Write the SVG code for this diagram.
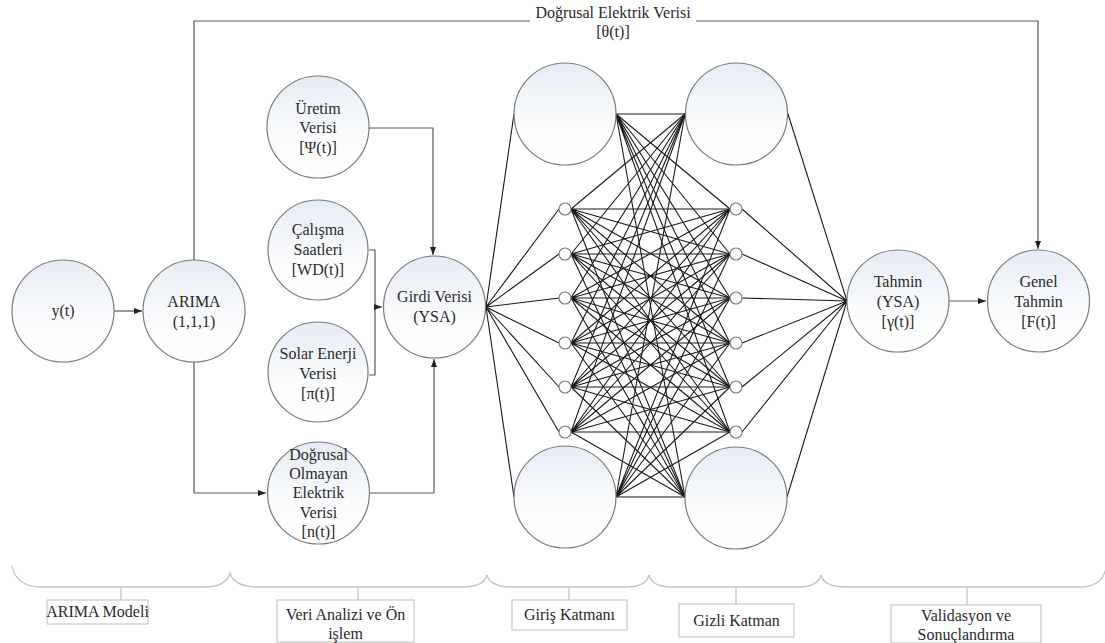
<svg xmlns="http://www.w3.org/2000/svg" width="1105" height="643" viewBox="0 0 1105 643" font-family="Liberation Serif, DejaVu Serif, serif">
<defs>
<linearGradient id="cf" x1="0" y1="0" x2="0" y2="1">
<stop offset="0" stop-color="#e6ecf4"/>
<stop offset="0.6" stop-color="#fbfcfd"/>
<stop offset="1" stop-color="#ffffff"/>
</linearGradient>
<marker id="ar" markerUnits="userSpaceOnUse" markerWidth="9" markerHeight="7" refX="8" refY="3.5" orient="auto">
<path d="M0,0.5 L8,3.5 L0,6.5 z" fill="#222"/>
</marker>
</defs>
<style>
.n{fill:url(#cf);stroke:#7a7a7a;stroke-width:1.2}
.s{fill:#fff;stroke:#7a7a7a;stroke-width:1.1}
.t{font-size:16px;fill:#2a2a2a;text-anchor:middle}
.bt{font-size:16px;fill:#2a2a2a;text-anchor:middle}
.c{fill:none;stroke:#5a5a5a;stroke-width:1.2}
.w{fill:none;stroke:#1a1a1a;stroke-width:1.1}
.br{fill:none;stroke:#c4c4c4;stroke-width:1.3}
.bx{fill:#fff;stroke:#bdbdbd;stroke-width:1}
</style>
<rect width="1105" height="643" fill="#fff"/>

<g id="connectors">
<path class="c" d="M114,311 L142,311" marker-end="url(#ar)"/>
<path class="c" d="M194,260 L194,21 L1038,21 L1038,249" marker-end="url(#ar)"/>
<path class="c" d="M194,362 L194,493 L266,493" marker-end="url(#ar)"/>
<path class="c" d="M369,128 L433,128 L433,255" marker-end="url(#ar)"/>
<path class="c" d="M369,250 L375,250 L375,375 L369,375"/>
<path class="c" d="M375,307 L382,307" marker-end="url(#ar)"/>
<path class="c" d="M370,493 L434,493 L434,359" marker-end="url(#ar)"/>
<path class="c" d="M949,301 L986,301" marker-end="url(#ar)"/>
<rect x="530" y="3" width="166" height="38" fill="#fff"/>
<text class="t" x="613" y="18" font-family="Liberation Serif, serif">Doğrusal Elektrik Verisi</text>
<text class="t" x="613" y="37" font-family="Liberation Serif, serif">[θ(t)]</text>
<g id="network-edges">
<path class="w" d="M486,307L514,114M486,307L559,209M486,307L559,254M486,307L559,298M486,307L559,343M486,307L559,387M486,307L559,432M486,307L514,497"/>
<path class="w" d="M616,114L685,114M616,114L730,209M616,114L730,254M616,114L730,298M616,114L730,343M616,114L730,387M616,114L730,432M616,114L685,497"/>
<path class="w" d="M571,209L685,114M571,209L730,209M571,209L730,254M571,209L730,298M571,209L730,343M571,209L730,387M571,209L730,432M571,209L685,497"/>
<path class="w" d="M571,254L685,114M571,254L730,209M571,254L730,254M571,254L730,298M571,254L730,343M571,254L730,387M571,254L730,432M571,254L685,497"/>
<path class="w" d="M571,298L685,114M571,298L730,209M571,298L730,254M571,298L730,298M571,298L730,343M571,298L730,387M571,298L730,432M571,298L685,497"/>
<path class="w" d="M571,343L685,114M571,343L730,209M571,343L730,254M571,343L730,298M571,343L730,343M571,343L730,387M571,343L730,432M571,343L685,497"/>
<path class="w" d="M571,387L685,114M571,387L730,209M571,387L730,254M571,387L730,298M571,387L730,343M571,387L730,387M571,387L730,432M571,387L685,497"/>
<path class="w" d="M571,432L685,114M571,432L730,209M571,432L730,254M571,432L730,298M571,432L730,343M571,432L730,387M571,432L730,432M571,432L685,497"/>
<path class="w" d="M616,497L685,114M616,497L730,209M616,497L730,254M616,497L730,298M616,497L730,343M616,497L730,387M616,497L730,432M616,497L685,497"/>
<path class="w" d="M788,114L847,301M742,209L847,301M742,254L847,301M742,298L847,301M742,343L847,301M742,387L847,301M742,432L847,301M787,497L847,301"/>
</g>
</g>

<g id="node-yt"><circle class="n" cx="63" cy="311" r="51"/><text class="t" x="63" y="316">y(t)</text></g>
<g id="node-arima"><circle class="n" cx="194" cy="311" r="51"/><text class="t" x="194" y="307">ARIMA</text><text class="t" x="194" y="327">(1,1,1)</text></g>
<g id="node-uretim"><circle class="n" cx="318" cy="127" r="51"/><text class="t" x="318" y="114">Üretim</text><text class="t" x="318" y="133">Verisi</text><text class="t" x="318" y="153">[Ψ(t)]</text></g>
<g id="node-calisma"><circle class="n" cx="318" cy="250" r="50"/><text class="t" x="318" y="235">Çalışma</text><text class="t" x="318" y="255">Saatleri</text><text class="t" x="318" y="275">[WD(t)]</text></g>
<g id="node-solar"><circle class="n" cx="318" cy="372" r="50"/><text class="t" x="318" y="359">Solar Enerji</text><text class="t" x="318" y="379">Verisi</text><text class="t" x="318" y="399">[π(t)]</text></g>
<g id="node-dogrusal-olmayan"><circle class="n" cx="318.5" cy="493" r="51"/><text class="t" x="318.5" y="460">Doğrusal</text><text class="t" x="318.5" y="479">Olmayan</text><text class="t" x="318.5" y="498">Elektrik</text><text class="t" x="318.5" y="518">Verisi</text><text class="t" x="318.5" y="537">[n(t)]</text></g>
<g id="node-girdi"><circle class="n" cx="434.5" cy="307" r="51"/><text class="t" x="434.5" y="302">Girdi Verisi</text><text class="t" x="434.5" y="322">(YSA)</text></g>

<g id="node-in-top"><circle class="n" cx="565" cy="114" r="51"/></g>
<g id="node-in-1"><circle class="s" cx="565" cy="209" r="6"/></g>
<g id="node-in-2"><circle class="s" cx="565" cy="254" r="6"/></g>
<g id="node-in-3"><circle class="s" cx="565" cy="298" r="6"/></g>
<g id="node-in-4"><circle class="s" cx="565" cy="343" r="6"/></g>
<g id="node-in-5"><circle class="s" cx="565" cy="387" r="6"/></g>
<g id="node-in-6"><circle class="s" cx="565" cy="432" r="6"/></g>
<g id="node-in-bottom"><circle class="n" cx="565" cy="497" r="51"/></g>
<g id="node-hid-top"><circle class="n" cx="736.5" cy="114" r="51"/></g>
<g id="node-hid-1"><circle class="s" cx="736" cy="209" r="6"/></g>
<g id="node-hid-2"><circle class="s" cx="736" cy="254" r="6"/></g>
<g id="node-hid-3"><circle class="s" cx="736" cy="298" r="6"/></g>
<g id="node-hid-4"><circle class="s" cx="736" cy="343" r="6"/></g>
<g id="node-hid-5"><circle class="s" cx="736" cy="387" r="6"/></g>
<g id="node-hid-6"><circle class="s" cx="736" cy="432" r="6"/></g>
<g id="node-hid-bottom"><circle class="n" cx="736" cy="498" r="51"/></g>

<g id="node-tahmin"><circle class="n" cx="898" cy="301" r="51"/><text class="t" x="898" y="287">Tahmin</text><text class="t" x="898" y="307">(YSA)</text><text class="t" x="898" y="327">[γ(t)]</text></g>
<g id="node-genel"><circle class="n" cx="1038.5" cy="301" r="51"/><text class="t" x="1038.5" y="287">Genel</text><text class="t" x="1038.5" y="307">Tahmin</text><text class="t" x="1038.5" y="327">[F(t)]</text></g>

<g id="braces">
<path class="br" d="M12,566 Q16,587 42,587 L204,587 Q226,587 230,573 Q234,587 258,587 L462,587 Q484,587 487,575 Q490,587 512,587 L626,587 Q646,587 649,575 Q652,587 672,587 L798,587 Q818,587 821,575 Q824,587 846,587 L1080,587 Q1102,587 1106,568"/>
<path class="br" d="M121,587 V600 M358,587 V600 M569,587 V600 M736,587 V604 M967,587 V605"/>
</g>
<g id="label-arima-modeli"><rect class="bx" x="47" y="600" width="101" height="24"/><text class="bt" x="97.5" y="617">ARIMA Modeli</text></g>
<g id="label-veri-analizi"><rect class="bx" x="277" y="600" width="137" height="42"/><text class="bt" x="345.5" y="620">Veri Analizi ve Ön</text><text class="bt" x="345.5" y="639">işlem</text></g>
<g id="label-giris"><rect class="bx" x="512" y="600" width="115" height="30"/><text class="bt" x="569.5" y="620">Giriş Katmanı</text></g>
<g id="label-gizli"><rect class="bx" x="679" y="604" width="115" height="33"/><text class="bt" x="736.5" y="626">Gizli Katman</text></g>
<g id="label-validasyon"><rect class="bx" x="891" y="605" width="150" height="38"/><text class="bt" x="966" y="621">Validasyon ve</text><text class="bt" x="966" y="640">Sonuçlandırma</text></g>
</svg>
